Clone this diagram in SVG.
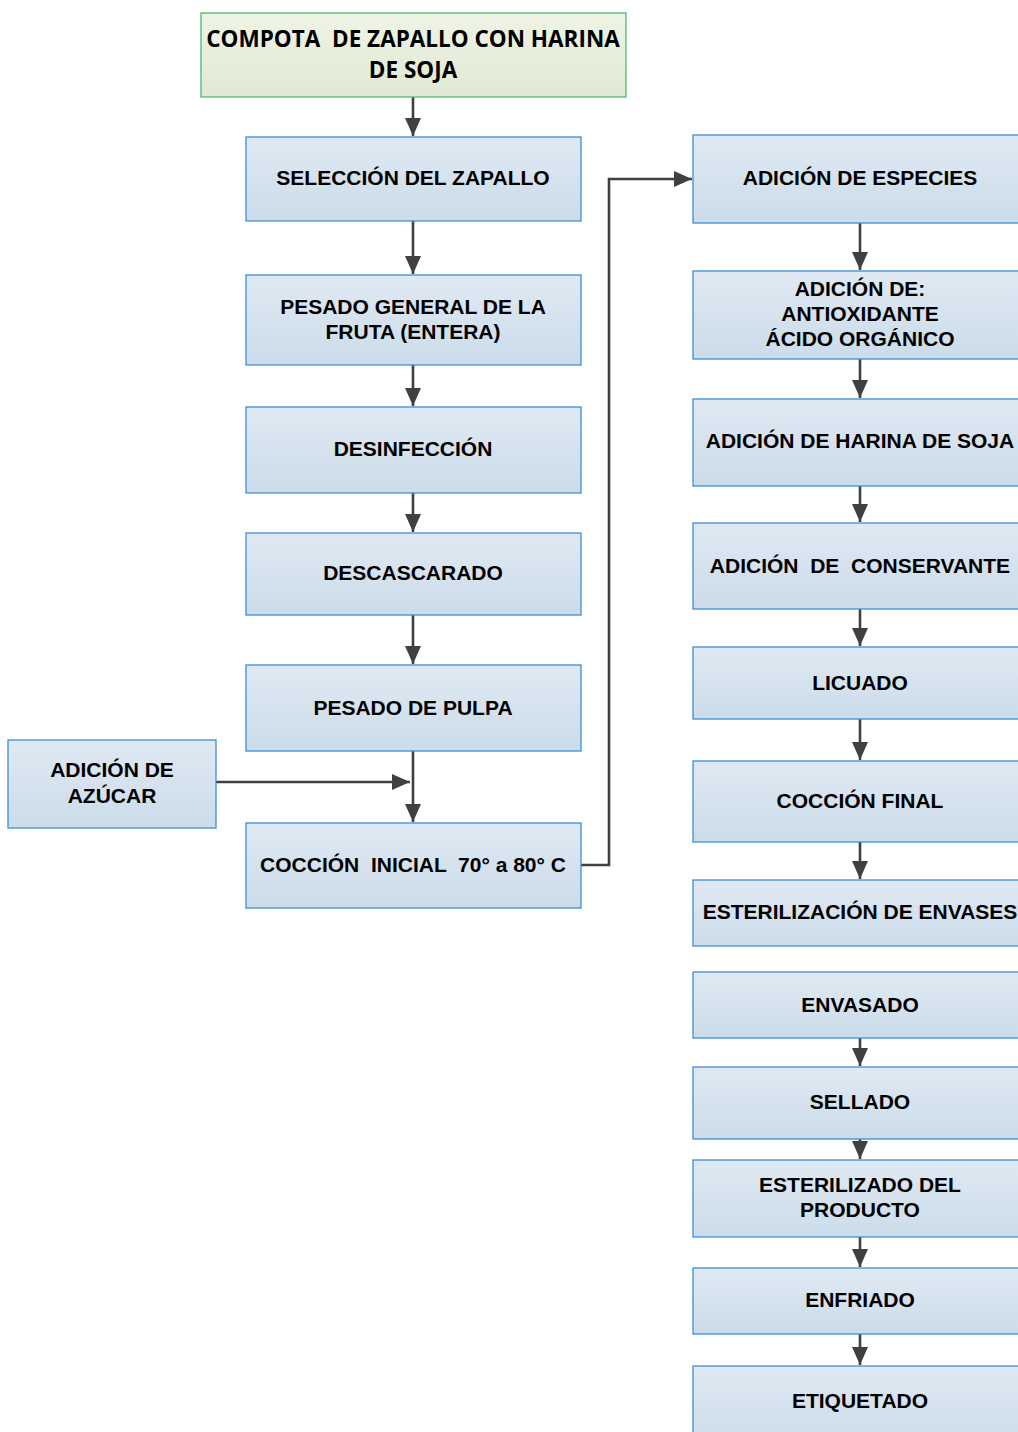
<svg xmlns="http://www.w3.org/2000/svg" width="1018" height="1432" viewBox="0 0 1018 1432">
<defs>
<linearGradient id="gb" x1="0" y1="0" x2="0" y2="1">
<stop offset="0" stop-color="#e0e9f3"/>
<stop offset="1" stop-color="#cbdcea"/>
</linearGradient>
<linearGradient id="gg" x1="0" y1="0" x2="0" y2="1">
<stop offset="0" stop-color="#eff4e6"/>
<stop offset="1" stop-color="#e1e8d2"/>
</linearGradient>
<marker id="ah" viewBox="0 0 18 16" refX="18" refY="8" markerWidth="18" markerHeight="16" markerUnits="userSpaceOnUse" orient="auto">
<path d="M0,0 L18,8 L0,16 z" fill="#404040"/>
</marker>
</defs>
<style>
.b{fill:url(#gb);stroke:#3d8fd4;stroke-width:1.3}
.g{fill:url(#gg);stroke:#4cbb6c;stroke-width:1.3}
.t{font-family:"Liberation Sans",Arial,sans-serif;font-weight:bold;font-size:21px;fill:#000;text-anchor:middle;white-space:pre}
.tt{font-family:"Open Sans","Liberation Sans",sans-serif;font-weight:bold;font-size:22.5px;fill:#000;text-anchor:middle;white-space:pre}
.c{fill:none;stroke:#404040;stroke-width:2.6;marker-end:url(#ah)}
</style>
<rect width="1018" height="1432" fill="#fff"/>
<g id="connectors">
<path class="c" d="M413,97 V136"/>
<path class="c" d="M413,221 V274"/>
<path class="c" d="M413,365 V406"/>
<path class="c" d="M413,493 V532"/>
<path class="c" d="M413,615 V664"/>
<path class="c" d="M413,751 V822"/>
<path class="c" d="M216,782 H410"/>
<path class="c" d="M581,865 H609 V179 H692"/>
<path class="c" d="M860,223 V270"/>
<path class="c" d="M860,359 V398"/>
<path class="c" d="M860,486 V522"/>
<path class="c" d="M860,609 V646"/>
<path class="c" d="M860,719 V760"/>
<path class="c" d="M860,842 V879"/>
<path class="c" d="M860,1038 V1066"/>
<path class="c" d="M860,1139 V1159"/>
<path class="c" d="M860,1237 V1267"/>
<path class="c" d="M860,1334 V1365"/>
</g>
<g id="n0"><rect class="g" x="201" y="13" width="425" height="84"/>
<text class="tt" x="413" y="47" xml:space="preserve">COMPOTA  DE ZAPALLO CON HARINA</text>
<text class="tt" x="413" y="78">DE SOJA</text></g>
<g id="n1"><rect class="b" x="246" y="137" width="335" height="84"/><text class="t" x="413" y="185">SELECCIÓN DEL ZAPALLO</text></g>
<g id="n2"><rect class="b" x="246" y="275" width="335" height="90"/><text class="t" x="413" y="314">PESADO GENERAL DE LA</text><text class="t" x="413" y="339">FRUTA (ENTERA)</text></g>
<g id="n3"><rect class="b" x="246" y="407" width="335" height="86"/><text class="t" x="413" y="456">DESINFECCIÓN</text></g>
<g id="n4"><rect class="b" x="246" y="533" width="335" height="82"/><text class="t" x="413" y="580">DESCASCARADO</text></g>
<g id="n5"><rect class="b" x="246" y="665" width="335" height="86"/><text class="t" x="413" y="715">PESADO DE PULPA</text></g>
<g id="n6"><rect class="b" x="8" y="740" width="208" height="88"/><text class="t" x="112" y="777">ADICIÓN DE</text><text class="t" x="112" y="803">AZÚCAR</text></g>
<g id="n7"><rect class="b" x="246" y="823" width="335" height="85"/><text class="t" x="413" y="872" xml:space="preserve">COCCIÓN  INICIAL  70° a 80° C</text></g>
<g id="n8"><rect class="b" x="693" y="135" width="335" height="88"/><text class="t" x="860" y="185">ADICIÓN DE ESPECIES</text></g>
<g id="n9"><rect class="b" x="693" y="271" width="335" height="88"/><text class="t" x="860" y="296">ADICIÓN DE:</text><text class="t" x="860" y="321">ANTIOXIDANTE</text><text class="t" x="860" y="346">ÁCIDO ORGÁNICO</text></g>
<g id="n10"><rect class="b" x="693" y="399" width="335" height="87"/><text class="t" x="860" y="448">ADICIÓN DE HARINA DE SOJA</text></g>
<g id="n11"><rect class="b" x="693" y="523" width="335" height="86"/><text class="t" x="860" y="573" xml:space="preserve">ADICIÓN  DE  CONSERVANTE</text></g>
<g id="n12"><rect class="b" x="693" y="647" width="335" height="72"/><text class="t" x="860" y="690">LICUADO</text></g>
<g id="n13"><rect class="b" x="693" y="761" width="335" height="81"/><text class="t" x="860" y="808">COCCIÓN FINAL</text></g>
<g id="n14"><rect class="b" x="693" y="880" width="335" height="66"/><text class="t" x="860" y="919">ESTERILIZACIÓN DE ENVASES</text></g>
<g id="n15"><rect class="b" x="693" y="972" width="335" height="66"/><text class="t" x="860" y="1012">ENVASADO</text></g>
<g id="n16"><rect class="b" x="693" y="1067" width="335" height="72"/><text class="t" x="860" y="1109">SELLADO</text></g>
<g id="n17"><rect class="b" x="693" y="1160" width="335" height="77"/><text class="t" x="860" y="1192">ESTERILIZADO DEL</text><text class="t" x="860" y="1217">PRODUCTO</text></g>
<g id="n18"><rect class="b" x="693" y="1268" width="335" height="66"/><text class="t" x="860" y="1307">ENFRIADO</text></g>
<g id="n19"><rect class="b" x="693" y="1366" width="335" height="80"/><text class="t" x="860" y="1408">ETIQUETADO</text></g>
</svg>
